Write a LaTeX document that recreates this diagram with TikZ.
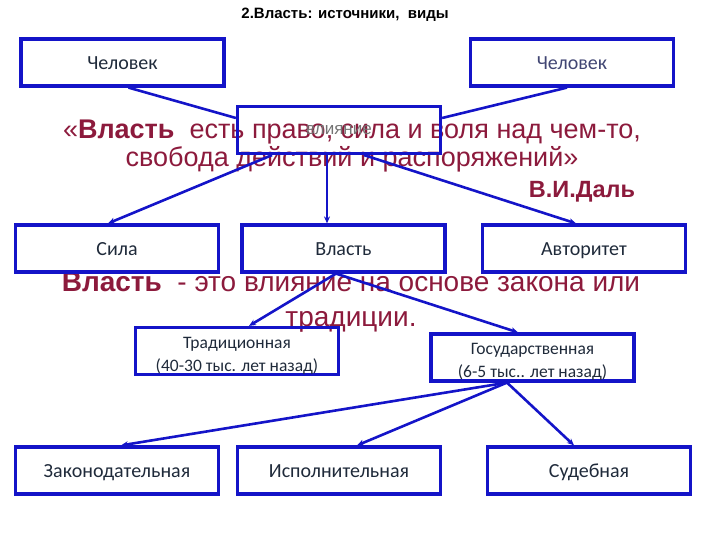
\documentclass[tikz,border=0pt]{standalone}
\usepackage{fontspec}
\setmainfont{Liberation Sans}
\newfontfamily\boxfont{Carlito}
\usepackage{tikz}
\usetikzlibrary{arrows.meta, positioning}
\definecolor{boxblue}{HTML}{1414C8}
\definecolor{quotered}{HTML}{8C1A3C}
\definecolor{boxtext}{HTML}{1F2A3A}

\begin{document}
\begin{tikzpicture}[
  x=1pt, y=-1pt,
  frame/.style={draw=boxblue, line width=3.2pt, minimum width=203pt, minimum height=47pt, align=center, text=boxtext},
  box/.style={frame, text height=16pt, text depth=2pt, font=\boxfont\fontsize{20}{22}\selectfont},
  smallbox/.style={frame, inner ysep=1pt, text height=40pt, text depth=0pt, font=\boxfont\fontsize{17.5}{23}\selectfont},
  quote/.style={text=quotered, align=center, font=\fontsize{27}{28}\selectfont},
  arr/.style={-{Stealth[length=7pt, width=6pt]}, line width=2.6pt, boxblue},
  link/.style={line width=2.6pt, boxblue}
]
  \useasboundingbox (0,0) rectangle (720,540);

  % texts
  \node[font=\bfseries\fontsize{15}{17}\selectfont] (title) at (345,15) {2.Власть: источники,\ \ виды};
  \node[quote] (q1) at (352,146) {«\textbf{Власть}\ \ есть право, сила и воля над чем-то,\\свобода действий и распоряжений»};
  \node[quote, font=\bfseries\fontsize{23.5}{25}\selectfont] (dal) at (582,192) {В.И.Даль};
  \node[quote, font=\fontsize{28}{35}\selectfont] (q2) at (351,302) {\textbf{Власть}\ \ - это влияние на основе закона или\\традиции.};

  % boxes
  \node[box] (manL) at (122.5,62.5) {Человек};
  \node[box, text=boxtext!75!blue!60!gray] (manR) at (572,62.5) {Человек};
  \node[frame, text=gray!90!black, font=\fontsize{17}{19}\selectfont] (infl) at (339,130) {влияние};
  \node[box] (sila) at (117,248.5) {Сила};
  \node[box] (vlast) at (343.5,248.5) {Власть};
  \node[box] (avt) at (584,248.5) {Авторитет};
  \node[smallbox] (trad) at (237,351) {Традиционная\\(40-30 тыс. лет назад)};
  \node[smallbox] (gos) at (532.5,357.5) {Государственная\\(6-5 тыс.. лет назад)};
  \node[box] (zak) at (117,470.5) {Законодательная};
  \node[box] (isp) at (339,470.5) {Исполнительная};
  \node[box] (sud) at (589,470.5) {Судебная};

  % connectors
  \draw[link] ([xshift=6pt]manL.south) -- ([yshift=12pt]infl.west);
  \draw[link] ([xshift=-5pt]manR.south) -- ([yshift=12pt]infl.east);
  \draw[arr] ([xshift=-67pt]infl.south) -- ([xshift=-9pt]sila.north);
  \draw[arr] ([xshift=-12pt]infl.south) -- ([xshift=-12pt]infl.south |- vlast.north);
  \draw[arr] ([xshift=25pt]infl.south) -- ([xshift=-8pt]avt.north);
  \draw[arr] ([xshift=-7.5pt]vlast.south) -- ([xshift=12pt]trad.north);
  \draw[arr] ([xshift=-7.5pt]vlast.south) -- ([xshift=-14.5pt]gos.north);
  \draw[arr] ([xshift=-25.5pt]gos.south) -- ([xshift=4pt]zak.north);
  \draw[arr] ([xshift=-25.5pt]gos.south) -- ([xshift=18pt]isp.north);
  \draw[arr] ([xshift=-25.5pt]gos.south) -- ([xshift=-15pt]sud.north);
\end{tikzpicture}
\end{document}
